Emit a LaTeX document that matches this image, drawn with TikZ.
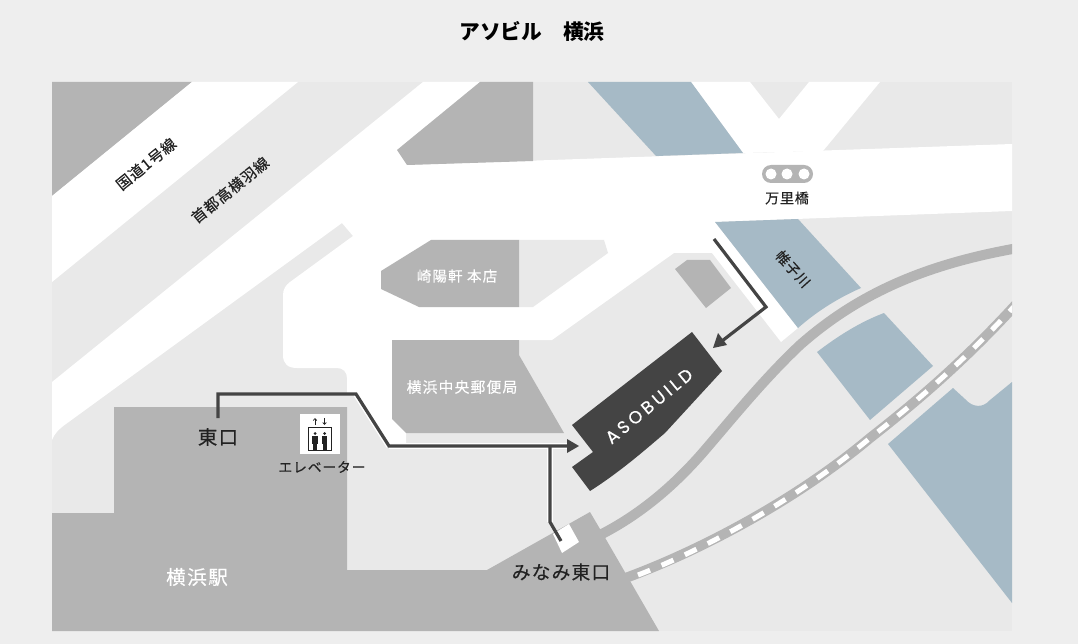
\documentclass[tikz,border=0pt]{standalone}
\usepackage{fontspec}
\usetikzlibrary{arrows.meta}
\setmainfont{Noto Sans CJK JP}
\newfontfamily\latinlogo[LetterSpace=20,FakeBold=0.3]{Poppins}
\newfontfamily\cjk[LetterSpace=6,FakeBold=0.35]{Noto Sans CJK JP}
\newfontfamily\cjkw[LetterSpace=8,FakeBold=0.15]{Noto Sans CJK JP}
\definecolor{pagebg}{HTML}{EEEEEE}
\definecolor{lightb}{HTML}{E9E9E9}
\definecolor{midgray}{HTML}{B4B4B4}
\definecolor{water}{HTML}{A6BAC6}
\definecolor{darkb}{HTML}{444444}
\definecolor{inkc}{HTML}{222222}
\tikzset{
  x=1pt,y=-1pt,
  road/.style={fill=white,draw=none},
  bldg/.style={fill=midgray,draw=none},
  plain/.style={fill=lightb,draw=none},
  riv/.style={fill=water,draw=none},
  routeline/.style={draw=darkb,line width=3.2pt,line join=miter},
  lab/.style={inner sep=0pt,text=inkc,font=\cjk\fontsize{14}{14}\selectfont},
  wlab/.style={inner sep=0pt,text=white,font=\cjkw\fontsize{13.5}{14}\selectfont},
}
\begin{document}
\begin{tikzpicture}
\useasboundingbox (0,0) rectangle (1078,644);
\fill[pagebg] (0,0) rectangle (1078,644);
\fill[lightb] (52,82) rectangle (1012,631);
% top-left
\fill[bldg] (52,82) -- (192,82) -- (52,196) -- cycle;
\fill[road] (192,82) -- (298,82) -- (52,282) -- (52,196) -- cycle;
% main white
\fill[road] (423,82) -- (480,82) -- (397,150) -- (407,165) -- (1012,144) -- (1012,211) -- (715,222)
  -- (798,328) -- (781,342) -- (712,253) -- (674,253) -- (552,340) -- (392,340) -- (392,419)
  -- (406,433) -- (406,443) -- (387,443) -- (356,393) -- (347,393) -- (347,378)
  .. controls (347,372) and (343,368) .. (337,368) -- (297,368)
  .. controls (288,368) and (283,364) .. (283,355) -- (283,295)
  .. controls (283,289) and (286,285) .. (290,282) -- (353,236) -- (342,223) -- (66,424)
  .. controls (59,429) and (54,434) .. (52,440) -- (52,382) -- cycle;
\fill[road] (691,82) -- (750,82) -- (779,119) -- (809,82) -- (880,82) -- (823,151) -- (743,153) -- cycle;
% top buildings and water
\fill[bldg] (480,82) -- (533,82) -- (533,161) -- (407,165) -- (397,150) -- cycle;
\fill[riv] (588,82) -- (691,82) -- (743,153) -- (656,156) -- cycle;
\fill[riv] (715,222) -- (798,219) -- (861,288) .. controls (838,298) and (816,312) .. (798,328) -- cycle;
\fill[riv] (817,352) .. controls (838,336) and (860,322) .. (884,313) -- (933,366) -- (870,420) -- cycle;
\fill[riv] (888,444) -- (953,388) -- (965,399) .. controls (973,408) and (983,408) .. (990,400) -- (1012,382) -- (1012,603) -- cycle;
% island
\fill[plain] (519,240) -- (604,240) -- (608,253) -- (533,307) -- (519,307) -- cycle;
\fill[bldg] (431,240) -- (519,240) -- (519,307) -- (419,307) -- (381,289) -- (381,271) -- cycle;
\fill[bldg] (675,269) -- (687,260) -- (710,260) -- (731,288) -- (706,308) -- cycle;
\fill[bldg] (392,340) -- (519,340) -- (519,355) -- (564,433) -- (406,433) -- (392,419) -- cycle;
% rail
\begin{scope}
\clip (52,82) rectangle (1012,631);
\draw[midgray,line width=10pt] (598,536) .. controls (640,515) and (675,485) .. (705,450)
  .. controls (735,415) and (765,378) .. (800,345) .. controls (860,292) and (930,262) .. (1030,246);
\draw[midgray,line width=10pt] (620,580) .. controls (690,555) and (790,505) .. (870,438)
  .. controls (925,395) and (970,355) .. (1020,300);
\draw[white,line width=5pt,dash pattern=on 13pt off 12.5pt] (638,575) .. controls (695,553) and (790,505) .. (870,438)
  .. controls (925,395) and (970,355) .. (1020,300);
\end{scope}
% station
\fill[bldg] (52,513) -- (114,513) -- (114,407) -- (347,407) -- (347,570) -- (487,570) -- (590,512) -- (600,529) -- (659,631) -- (52,631) -- cycle;
\fill[road] (553,534) -- (569,524) -- (579,542) -- (562,553) -- cycle;
% building
\fill[darkb] (692,332) -- (722,371) -- (665,433) .. controls (645,450) and (620,472) .. (590,491) -- (572,467) -- (593,452) -- (572,425) -- cycle;
% signal
\fill[midgray,rounded corners=9pt] (762,165) rectangle (813,183);
\foreach \cx in {771,787,804} \fill[white] (\cx,174) circle (5.5pt);
% elevator icon
\fill[white] (300,414) rectangle (340,454);
\draw[inkc,line width=.7pt] (308.5,427.5) rectangle (331.5,450.5);
\draw[inkc,line width=.7pt,-{Straight Barb[length=2pt,width=3.5pt]}] (315,425) -- (315,418);
\draw[inkc,line width=.7pt,-{Straight Barb[length=2pt,width=3.5pt]}] (324.5,418) -- (324.5,425);
\foreach \px in {315,324.5}{
  \fill[inkc] (\px,433.5) circle (1.5pt);
  \fill[inkc] (\px-2.8,436) rectangle (\px+2.8,444);
  \fill[inkc] (\px-2,444) rectangle (\px+2,450);
}
% routes
\coordinate (eastStart) at (218,418);
\coordinate (eastA) at (218,394);
\coordinate (eastB) at (356,394);
\coordinate (eastC) at (389,446);
\coordinate (arrowEnd) at (579,446);
\coordinate (southJoin) at (550,446);
\coordinate (southA) at (550,522);
\coordinate (southEnd) at (561,541);
\coordinate (riverStart) at (714,239);
\coordinate (riverBend) at (766,307);
\coordinate (riverEnd) at (713,348);
\draw[white,line width=6.5pt] (eastC) -- (570,446);
\draw[white,line width=6.5pt] (southJoin) -- (southA);
\draw[white,line width=6pt] (eastB) -- (eastC);
\draw[routeline] (eastStart) -- (eastA) -- (eastB) -- (eastC) -- (568,446);
\fill[darkb] (arrowEnd) -- (567,439) -- (567,453) -- cycle;
\draw[routeline] (southJoin) -- (southA) -- (southEnd);
\draw[routeline] (riverStart) -- (riverBend) -- (722,341);
\fill[darkb] (riverEnd) -- (718,333) -- (727,345) -- cycle;
% text
\node[inner sep=0pt] (title) at (532,31) {\fontsize{20.7}{20}\selectfont\bfseries アソビル　横浜};
\node[lab,rotate=39,font=\cjk\fontsize{15}{15}\selectfont] (r1) at (146,164) {国道1号線};
\node[lab,rotate=39,font=\cjk\fontsize{15}{15}\selectfont] (r2) at (230,190) {首都高横羽線};
\node[wlab,font=\cjkw\fontsize{14.5}{14}\selectfont] (sk) at (457,276) {崎陽軒 本店};
\node[wlab,font=\cjkw\fontsize{14.8}{14}\selectfont] (po) at (462,387) {横浜中央郵便局};
\node[lab] (mb) at (787,198) {万里橋};
\node[lab,rotate=-48] (rv) at (793,269) {帷子川};
\node[lab,font=\cjk\fontsize{19.5}{18}\selectfont] (eg) at (218,437) {東口};
\node[lab,font=\cjk\fontsize{13.8}{14}\selectfont] (ev) at (322,467) {エレベーター};
\node[wlab,font=\cjkw\fontsize{19.5}{18}\selectfont] (ys) at (197,577) {横浜駅};
\node[lab,font=\cjk\fontsize{18.8}{18}\selectfont] (mi) at (561,572) {みなみ東口};
\node[inner sep=0pt,text=white,rotate=39.5,font=\latinlogo\fontsize{17.5}{15}\selectfont] (ab) at (649,406) {ASOBUILD};
\end{tikzpicture}
\end{document}
